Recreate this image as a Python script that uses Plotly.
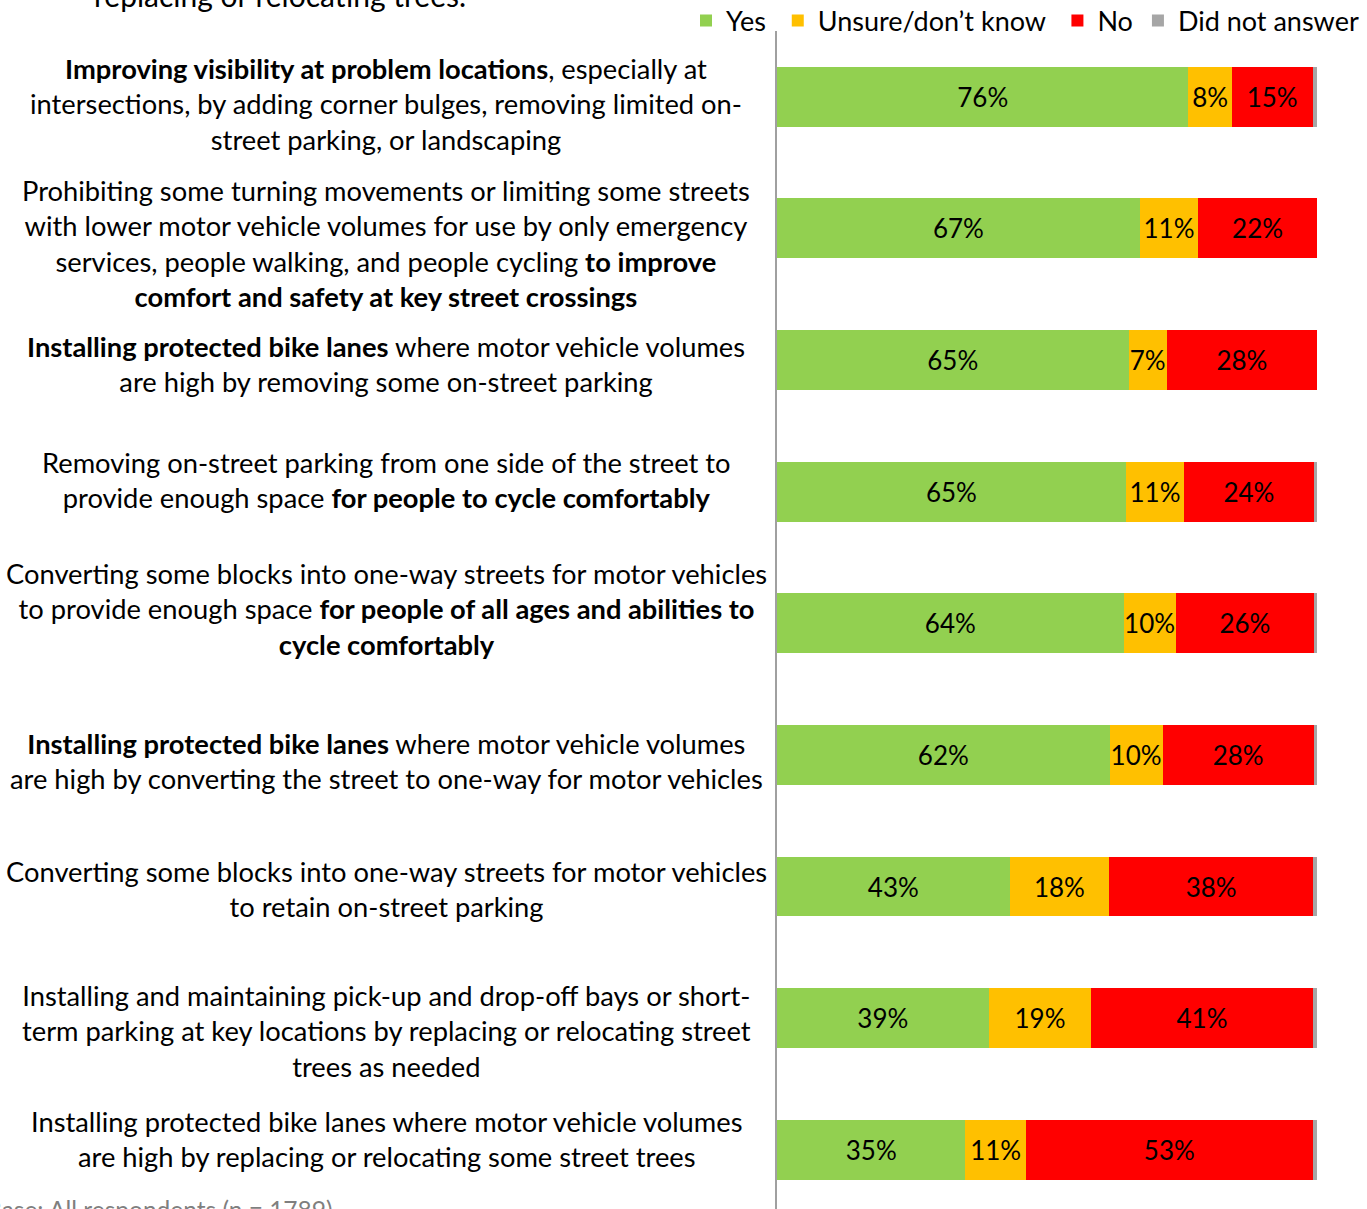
import plotly.graph_objects as go

# ---- data ----
items = [
    "<b>Improving visibility at problem locations</b>, especially at<br>intersections, by adding corner bulges, removing limited on-<br>street parking, or landscaping",
    "Prohibiting some turning movements or limiting some streets<br>with lower motor vehicle volumes for use by only emergency<br>services, people walking, and people cycling <b>to improve</b><br><b>comfort and safety at key street crossings</b>",
    "<b>Installing protected bike lanes</b> where motor vehicle volumes<br>are high by removing some on-street parking",
    "Removing on-street parking from one side of the street to<br>provide enough space <b>for people to cycle comfortably</b>",
    "Converting some blocks into one-way streets for motor vehicles<br>to provide enough space <b>for people of all ages and abilities to</b><br><b>cycle comfortably</b>",
    "<b>Installing protected bike lanes</b> where motor vehicle volumes<br>are high by converting the street to one-way for motor vehicles",
    "Converting some blocks into one-way streets for motor vehicles<br>to retain on-street parking",
    "Installing and maintaining pick-up and drop-off bays or short-<br>term parking at key locations by replacing or relocating street<br>trees as needed",
    "Installing protected bike lanes where motor vehicle volumes<br>are high by replacing or relocating some street trees",
]
yes_vals = [76.2, 67.2, 65.1, 64.6, 64.2, 61.6, 43.1, 39.2, 34.9]
unsure_vals = [8.0, 10.8, 7.1, 10.8, 9.6, 9.8, 18.4, 19.0, 11.2]
no_vals = [15.0, 22.0, 27.8, 24.0, 25.7, 28.0, 37.8, 41.0, 53.1]
noanswer_vals = [0.8, 0.0, 0.0, 0.6, 0.5, 0.6, 0.7, 0.8, 0.8]
series_names = ["Yes", "Unsure/don’t know", "No", "Did not answer"]
title_tail = "replacing or relocating trees."
base_note = "Base: All respondents (n = 1789)"

# ---- styling ----
FONT = "Lato"
colors = ["#92D050", "#FFC000", "#FF0000", "#A6A6A6"]
legend_pad = ["\u00a0", "\u00a0", "", ""]
label_yshift = [-7, -15, -4, 12, 14, -6, -2, -13, 11]

fig = go.Figure()
for name, vals, col, pad in zip(series_names,
                                [yes_vals, unsure_vals, no_vals, noanswer_vals],
                                colors, legend_pad):
    show_text = name != "Did not answer"
    fig.add_trace(go.Bar(
        y=items, x=vals, name=name + pad, orientation="h",
        marker=dict(color=col, line=dict(width=0)),
        texttemplate="%{x:.0f}%" if show_text else "",
        textposition="inside" if show_text else "none",
        insidetextanchor="middle",
        constraintext="none",
        textangle=0,
        textfont=dict(family=FONT, size=26, color="#000000"),
        hoverinfo="skip",
    ))

W, H = 1367, 1209
L, R, T, B = 777, 50, 31, 0
plot_w = W - L - R
plot_h = H - T - B


def px_x(px):
    return (px - L) / plot_w


def px_y(py):
    return 1 - (py - T) / plot_h


fig.update_layout(
    width=W, height=H,
    margin=dict(l=L, r=R, t=T, b=B, pad=0, autoexpand=False),
    barmode="stack",
    bargap=0.545,
    plot_bgcolor="white", paper_bgcolor="white",
    font=dict(family=FONT, size=27, color="#000000"),
    showlegend=True,
    legend=dict(
        orientation="h", traceorder="normal",
        x=px_x(686), xanchor="left", y=px_y(21), yanchor="middle",
        font=dict(family=FONT, size=27, color="#000000"),
        itemwidth=30, bgcolor="rgba(0,0,0,0)",
    ),
    xaxis=dict(range=[0, 100], visible=False, fixedrange=True),
    yaxis=dict(
        type="category", range=[8.45, -0.5],
        showticklabels=False, showgrid=False, zeroline=False,
        showline=True, linecolor="#A0A0A0", linewidth=2,
        ticks="",
    ),
)

for it, ys in zip(items, label_yshift):
    fig.add_annotation(
        text=it, xref="paper", yref="y", x=px_x(386), y=it,
        xanchor="center", yanchor="middle", align="center",
        showarrow=False, yshift=ys,
        font=dict(family=FONT, size=27.3, color="#000000"),
    )

fig.add_annotation(
    text=title_tail, xref="paper", yref="paper",
    x=px_x(92), y=px_y(-4.5),
    xanchor="left", yanchor="middle", showarrow=False,
    font=dict(family=FONT, size=30, color="#000000"),
)
fig.add_annotation(
    text=base_note, xref="paper", yref="paper",
    x=px_x(-16), y=px_y(1209),
    xanchor="left", yanchor="middle", showarrow=False,
    font=dict(family=FONT, size=24.5, color="#7F7F7F"),
)

fig.write_html(
    "out.html",
    config={"displayModeBar": False, "staticPlot": True},
    post_script="document.body.style.margin='0';document.body.style.overflow='hidden';",
)
